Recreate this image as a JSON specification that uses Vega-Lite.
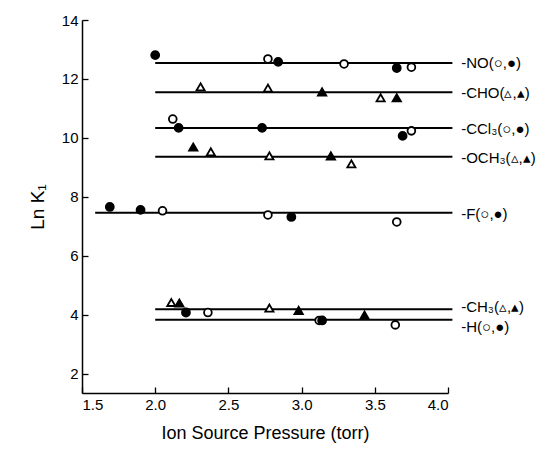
{
  "$schema": "https://vega.github.io/schema/vega-lite/v6.json",
  "width": 366,
  "height": 373,
  "autosize": {"type": "none"},
  "padding": {"left": 82, "top": 20, "right": 110, "bottom": 69},
  "background": "white",
  "config": {
    "view": {"stroke": null},
    "font": "Liberation Sans",
    "axis": {
      "domainColor": "black", "domainWidth": 1.5, "tickColor": "black", "tickWidth": 1.3,
      "labelColor": "black", "titleColor": "black", "labelFont": "Liberation Sans", "titleFont": "Liberation Sans",
      "grid": false
    }
  },
  "datasets": {
    "pts": [
      {"sub": "NO", "p": 2.0, "lnk": 12.81, "m": "fc"},
      {"sub": "NO", "p": 2.77, "lnk": 12.68, "m": "oc"},
      {"sub": "NO", "p": 2.84, "lnk": 12.58, "m": "fc"},
      {"sub": "NO", "p": 3.29, "lnk": 12.51, "m": "oc"},
      {"sub": "NO", "p": 3.65, "lnk": 12.37, "m": "fc"},
      {"sub": "NO", "p": 3.75, "lnk": 12.4, "m": "oc"},
      {"sub": "CHO", "p": 2.31, "lnk": 11.73, "m": "ot"},
      {"sub": "CHO", "p": 2.77, "lnk": 11.69, "m": "ot"},
      {"sub": "CHO", "p": 3.14, "lnk": 11.56, "m": "ft"},
      {"sub": "CHO", "p": 3.54, "lnk": 11.36, "m": "ot"},
      {"sub": "CHO", "p": 3.65, "lnk": 11.36, "m": "ft"},
      {"sub": "CCl3", "p": 2.12, "lnk": 10.64, "m": "oc"},
      {"sub": "CCl3", "p": 2.16, "lnk": 10.34, "m": "fc"},
      {"sub": "CCl3", "p": 2.73, "lnk": 10.34, "m": "fc"},
      {"sub": "CCl3", "p": 3.69, "lnk": 10.07, "m": "fc"},
      {"sub": "CCl3", "p": 3.75, "lnk": 10.24, "m": "oc"},
      {"sub": "OCH3", "p": 2.26, "lnk": 9.69, "m": "ft"},
      {"sub": "OCH3", "p": 2.38, "lnk": 9.53, "m": "ot"},
      {"sub": "OCH3", "p": 2.78, "lnk": 9.39, "m": "ot"},
      {"sub": "OCH3", "p": 3.2, "lnk": 9.39, "m": "ft"},
      {"sub": "OCH3", "p": 3.34, "lnk": 9.12, "m": "ot"},
      {"sub": "F", "p": 1.69, "lnk": 7.66, "m": "fc"},
      {"sub": "F", "p": 1.9, "lnk": 7.56, "m": "fc"},
      {"sub": "F", "p": 2.05, "lnk": 7.53, "m": "oc"},
      {"sub": "F", "p": 2.77, "lnk": 7.39, "m": "oc"},
      {"sub": "F", "p": 2.93, "lnk": 7.32, "m": "fc"},
      {"sub": "F", "p": 3.65, "lnk": 7.15, "m": "oc"},
      {"sub": "CH3", "p": 2.11, "lnk": 4.42, "m": "ot"},
      {"sub": "CH3", "p": 2.165, "lnk": 4.4, "m": "ft"},
      {"sub": "CH3", "p": 2.78, "lnk": 4.23, "m": "ot"},
      {"sub": "CH3", "p": 2.98, "lnk": 4.15, "m": "ft"},
      {"sub": "CH3", "p": 3.43, "lnk": 3.99, "m": "ft"},
      {"sub": "H", "p": 2.21, "lnk": 4.08, "m": "fc"},
      {"sub": "H", "p": 2.36, "lnk": 4.08, "m": "oc"},
      {"sub": "H", "p": 3.12, "lnk": 3.81, "m": "oc"},
      {"sub": "H", "p": 3.14, "lnk": 3.81, "m": "fc"},
      {"sub": "H", "p": 3.64, "lnk": 3.66, "m": "oc"}
    ],
    "fits": [
      {"sub": "NO", "p1": 2.0, "p2": 4.03, "lnk": 12.54, "label": "-NO(○,●)", "ly": 12.54},
      {"sub": "CHO", "p1": 2.0, "p2": 4.03, "lnk": 11.55, "label": "-CHO(▵,▴)", "ly": 11.53},
      {"sub": "CCl3", "p1": 2.0, "p2": 4.03, "lnk": 10.34, "label": "-CCl₃(○,●)", "ly": 10.3},
      {"sub": "OCH3", "p1": 2.0, "p2": 4.03, "lnk": 9.36, "label": "-OCH₃(▵,▴)", "ly": 9.33},
      {"sub": "F", "p1": 1.59, "p2": 4.03, "lnk": 7.46, "label": "-F(○,●)", "ly": 7.43},
      {"sub": "CH3", "p1": 2.0, "p2": 4.03, "lnk": 4.19, "label": "-CH₃(▵,▴)", "ly": 4.25},
      {"sub": "H", "p1": 2.0, "p2": 4.03, "lnk": 3.83, "label": "-H(○,●)", "ly": 3.6}
    ]
  },
  "layer": [
    {
      "data": {"name": "fits"},
      "mark": {"type": "rule", "color": "black", "strokeWidth": 2},
      "encoding": {
        "x": {"field": "p1", "type": "quantitative", "scale": {"domain": [1.5, 4.0], "nice": false, "zero": false},
          "axis": {"title": "Ion Source Pressure (torr)", "values": [1.5, 2.0, 2.5, 3.0, 3.5, 4.0], "format": ".1f",
            "tickSize": -6, "labelPadding": 10, "labelFontSize": 15, "titleFontSize": 18, "titleFontWeight": "normal", "titlePadding": 12}},
        "x2": {"field": "p2"},
        "y": {"field": "lnk", "type": "quantitative", "scale": {"domain": [1.35, 14], "nice": false, "zero": false},
          "axis": {"title": "Ln K₁", "values": [2, 4, 6, 8, 10, 12, 14], "tickSize": -6, "labelPadding": 10,
            "labelFontSize": 15, "titleFontSize": 19, "titleFontWeight": "normal", "titlePadding": 14}}
      }
    },
    {
      "data": {"name": "fits"},
      "mark": {"type": "text", "align": "left", "baseline": "middle", "fontSize": 15, "color": "black", "font": "Liberation Sans"},
      "encoding": {
        "x": {"datum": 4.09, "type": "quantitative"},
        "y": {"field": "ly", "type": "quantitative"},
        "text": {"field": "label"}
      }
    },
    {
      "data": {"name": "pts"},
      "mark": {"type": "point", "filled": true, "stroke": "black", "strokeWidth": 1.8, "opacity": 1},
      "encoding": {
        "x": {"field": "p", "type": "quantitative"},
        "y": {"field": "lnk", "type": "quantitative"},
        "shape": {"field": "m", "type": "nominal", "scale": {"domain": ["oc", "fc", "ot", "ft"], "range": ["circle", "circle", "triangle-up", "triangle-up"]}, "legend": null},
        "fill": {"field": "m", "type": "nominal", "scale": {"domain": ["oc", "fc", "ot", "ft"], "range": ["white", "black", "white", "black"]}, "legend": null},
        "size": {"field": "m", "type": "nominal", "scale": {"domain": ["oc", "fc", "ot", "ft"], "range": [60, 70, 45, 50]}, "legend": null}
      }
    }
  ]
}
